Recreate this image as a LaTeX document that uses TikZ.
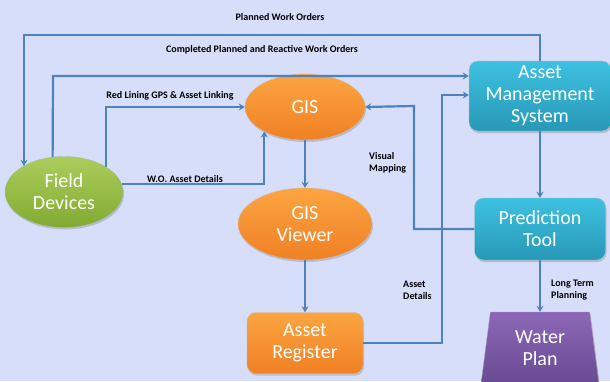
\documentclass[tikz,border=0pt]{standalone}
\usepackage{fontspec}
\setmainfont{Carlito}
\usetikzlibrary{arrows.meta,shapes,shadows}
\definecolor{bgblue}{RGB}{214,222,250}
\definecolor{linkblue}{RGB}{79,129,189}
\tikzstyle{shade}=[drop shadow={opacity=0.35,shadow xshift=1pt,shadow yshift=-2pt}]
\tikzstyle{bigtext}=[text=white,align=center,font=\fontsize{20}{22}\selectfont]
\tikzstyle{devnode}=[ellipse,shade,bigtext,draw=green!40!black!40,top color={rgb,255:red,172;green,205;blue,92},bottom color={rgb,255:red,130;green,170;blue,50},minimum width=118pt,minimum height=71pt,inner sep=0pt]
\tikzstyle{gisnode}=[ellipse,shade,bigtext,draw=orange!60!black!40,top color={rgb,255:red,252;green,165;blue,66},bottom color={rgb,255:red,240;green,128;blue,36},inner sep=0pt]
\tikzstyle{regnode}=[rectangle,rounded corners=9pt,shade,bigtext,draw=orange!60!black!40,top color={rgb,255:red,252;green,165;blue,66},bottom color={rgb,255:red,240;green,128;blue,36},minimum width=116pt,minimum height=61pt,inner sep=0pt]
\tikzstyle{toolnode}=[rectangle,rounded corners=9pt,shade,bigtext,draw=cyan!50!black!40,top color={rgb,255:red,62;green,193;blue,225},bottom color={rgb,255:red,40;green,152;blue,183},inner sep=0pt]
\tikzstyle{plannode}=[trapezium,trapezium angle=75,trapezium stretches body,shade,bigtext,draw=violet!50!black!40,top color={rgb,255:red,140;green,104;blue,182},bottom color={rgb,255:red,104;green,74;blue,146},minimum width=118pt,minimum height=72pt,inner sep=0pt]
\tikzstyle{link}=[draw,line width=2.2pt,linkblue,-{Stealth[length=6pt,width=7pt]}]
\tikzstyle{note}=[font=\bfseries\fontsize{10}{12}\selectfont,align=left,inner sep=0pt]

\begin{document}
\begin{tikzpicture}[x=1pt,y=-1pt]

    \useasboundingbox (0,0) rectangle (610,381);
    \fill[bgblue] (0,0) rectangle (610,381);

    \node[devnode] (fd) at (64,192) {Field\\Devices};
    \node[gisnode, minimum width=120pt, minimum height=66pt] (gis) at (305,107) {GIS};
    \node[gisnode, minimum width=134pt, minimum height=72pt] (viewer) at (305,224) {GIS\\Viewer};
    \node[regnode] (reg) at (305,343) {Asset\\Register};
    \node[toolnode, minimum width=142pt, minimum height=70pt] (ams) at (540,96) {Asset\\Management\\System};
    \node[toolnode, minimum width=131pt, minimum height=62pt] (pred) at (540,229) {Prediction\\Tool};
    \node[plannode] (plan) at (540,348) {Water\\Plan};

    \coordinate (pwo) at (24,35);
    \coordinate (cpw) at (53,76);
    \coordinate (adx) at (442,95);
    \coordinate (vmx) at (414,106);

    \foreach \source/ \dest in {gis/viewer, viewer/reg, ams/pred, pred/plan}
        \path[link] (\source) -- (\dest);

    \path[link] (ams.north) |- (pwo) -- (pwo |- fd.147);
    \path[link] (fd.108) -- (cpw) -- (cpw -| ams.west);
    \path[link] (fd.31) |- (gis.west);
    \path[link] (fd.8) -| (gis.211);
    \path[link] (reg.east) -| (adx) -- (adx -| ams.west);
    \path[link] (pred.west) -| (vmx) -- (gis.east);

    \node[note] (lpwo) at (280,17) {Planned Work Orders};
    \node[note] (lcpw) at (262,50) {Completed Planned and Reactive Work Orders};
    \node[note] (lred) at (170,96) {Red Lining GPS \& Asset Linking};
    \node[note] (lwo) at (185,179) {W.O. Asset Details};
    \node[note, anchor=west] (lvis) at (369,163) {Visual\\Mapping};
    \node[note, anchor=west] (ladx) at (403,290) {Asset\\Details};
    \node[note, anchor=west] (llong) at (551,290) {Long Term\\Planning};

\end{tikzpicture}
\end{document}
